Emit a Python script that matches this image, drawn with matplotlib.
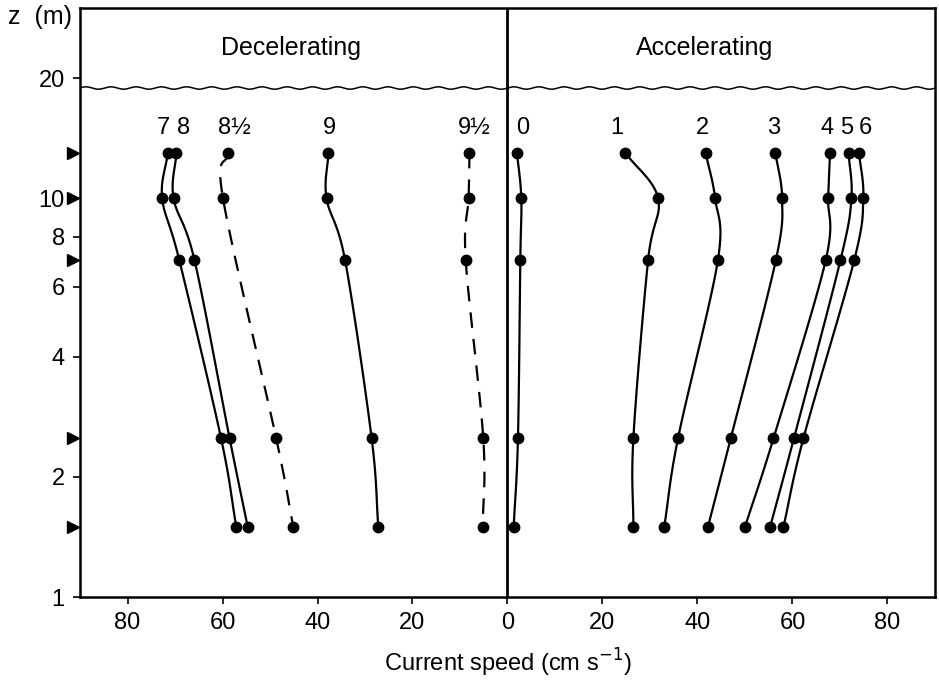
import numpy as np
import matplotlib
matplotlib.use('Agg')
import matplotlib.pyplot as plt
from matplotlib.transforms import blended_transform_factory

plt.rcParams['font.family'] = ['Liberation Sans', 'DejaVu Sans']

# measurement heights above the bed (m)
depths = [13, 10, 7, 2.5, 1.5]

# decelerating profiles (speed, cm/s) -- drawn on the left half
dec_7 = [71.5, 72.7, 69.1, 60.3, 57.1]
dec_8 = [69.7, 70.3, 65.9, 58.5, 54.7]
dec_8h = [58.8, 59.9, None, 48.7, 45.1]
dec_9 = [37.7, 38.1, 34.2, 28.6, 27.2]
dec_9h = [8.0, 8.2, 8.8, 5.1, 5.2]

# accelerating profiles (speed, cm/s) -- right half
acc_0 = [2.0, 2.9, 2.7, 2.2, 1.3]
acc_1 = [24.8, 31.7, 29.6, 26.5, 26.5]
acc_2 = [41.7, 43.7, 44.3, 35.9, 33.0]
acc_3 = [56.4, 57.8, 56.5, 47.0, 42.2]
acc_4 = [67.9, 67.5, 67.0, 56.0, 50.0]
acc_5 = [71.8, 72.4, 70.1, 60.3, 55.3]
acc_6 = [74.0, 74.9, 73.0, 62.3, 58.1]

# (speed list, side, dashed?, label, label x)
profiles = [
    (dec_7, -1, False, '7', -72.5),
    (dec_8, -1, False, '8', -68.3),
    (dec_8h, -1, True, '8½', -57.5),
    (dec_9, -1, False, '9', -37.5),
    (dec_9h, -1, True, '9½', -7.0),
    (acc_0, 1, False, '0', 3.2),
    (acc_1, 1, False, '1', 23.0),
    (acc_2, 1, False, '2', 41.0),
    (acc_3, 1, False, '3', 56.0),
    (acc_4, 1, False, '4', 67.3),
    (acc_5, 1, False, '5', 71.4),
    (acc_6, 1, False, '6', 75.3),
]

xticks = [-80, -60, -40, -20, 0, 20, 40, 60, 80]
yticks = [1, 2, 4, 6, 8, 10, 20]
surface_z = 18.9


def smooth(x, z, n=30):
    # Catmull-Rom curve through the points, in (speed, log z)
    px = np.asarray(x, float)
    pz = np.log10(np.asarray(z, float))
    P = np.column_stack([px, pz])
    P = np.vstack([2 * P[0] - P[1], P, 2 * P[-1] - P[-2]])
    out = []
    for i in range(1, len(P) - 2):
        p0, p1, p2, p3 = P[i - 1], P[i], P[i + 1], P[i + 2]
        t = np.linspace(0, 1, n)[:, None]
        seg = 0.5 * ((2 * p1) + (-p0 + p2) * t +
                     (2 * p0 - 5 * p1 + 4 * p2 - p3) * t ** 2 +
                     (-p0 + 3 * p1 - 3 * p2 + p3) * t ** 3)
        out.append(seg)
    out = np.vstack(out)
    return out[:, 0], 10 ** out[:, 1]


fig = plt.figure(figsize=(9.39, 6.92), dpi=100)
ax = fig.add_axes([80 / 939, 1 - 597 / 692, 855 / 939, 589 / 692])

for speeds, side, dashed, label, lx in profiles:
    pts = [(side * s, d) for s, d in zip(speeds, depths) if s is not None]
    xs = [p[0] for p in pts]
    zs = [p[1] for p in pts]
    cx, cz = smooth(xs, zs)
    ax.plot(cx, cz, color='black', lw=1.6,
            linestyle=(0, (7, 5)) if dashed else '-')
    ax.plot(xs, zs, 'o', color='black', ms=7.5)
    ax.text(lx, 14.1, label, ha='center', va='bottom', fontsize=17)

# wavy water surface
wx = np.linspace(-90, 90, 800)
wz = surface_z * 10 ** (0.003 * np.sin(wx * 2 * np.pi / 5.3))
ax.plot(wx, wz, color='black', lw=1.1)

ax.axvline(0, color='black', lw=2.0)

ax.text(-45.5, 23.8, 'Decelerating', ha='center', va='center', fontsize=18)
ax.text(41.5, 23.8, 'Accelerating', ha='center', va='center', fontsize=18)

# arrows marking the current-meter heights
trans = blended_transform_factory(ax.transAxes, ax.transData)
ax.plot([-0.008] * len(depths), depths, '>', color='black', ms=8,
        transform=trans, clip_on=False)

ax.set_yscale('log')
ax.set_xlim(-90, 90)
ax.set_ylim(1, 30)
ax.set_xticks(xticks)
ax.set_xticklabels([str(abs(v)) for v in xticks])
ax.set_yticks(yticks)
ax.set_yticklabels([str(v) for v in yticks])
ax.yaxis.set_minor_locator(matplotlib.ticker.NullLocator())
ax.tick_params(axis='both', labelsize=17, length=5, width=1.2,
               direction='out', pad=6)

for sp in ax.spines.values():
    sp.set_linewidth(1.8)

fig.text(40 / 939, 1 - 17 / 692, 'z  (m)', ha='center', va='center',
         fontsize=18)
ax.set_xlabel('Current speed (cm s$^{-1}$)', fontsize=17, labelpad=9)

fig.savefig('out.png', dpi=100)
